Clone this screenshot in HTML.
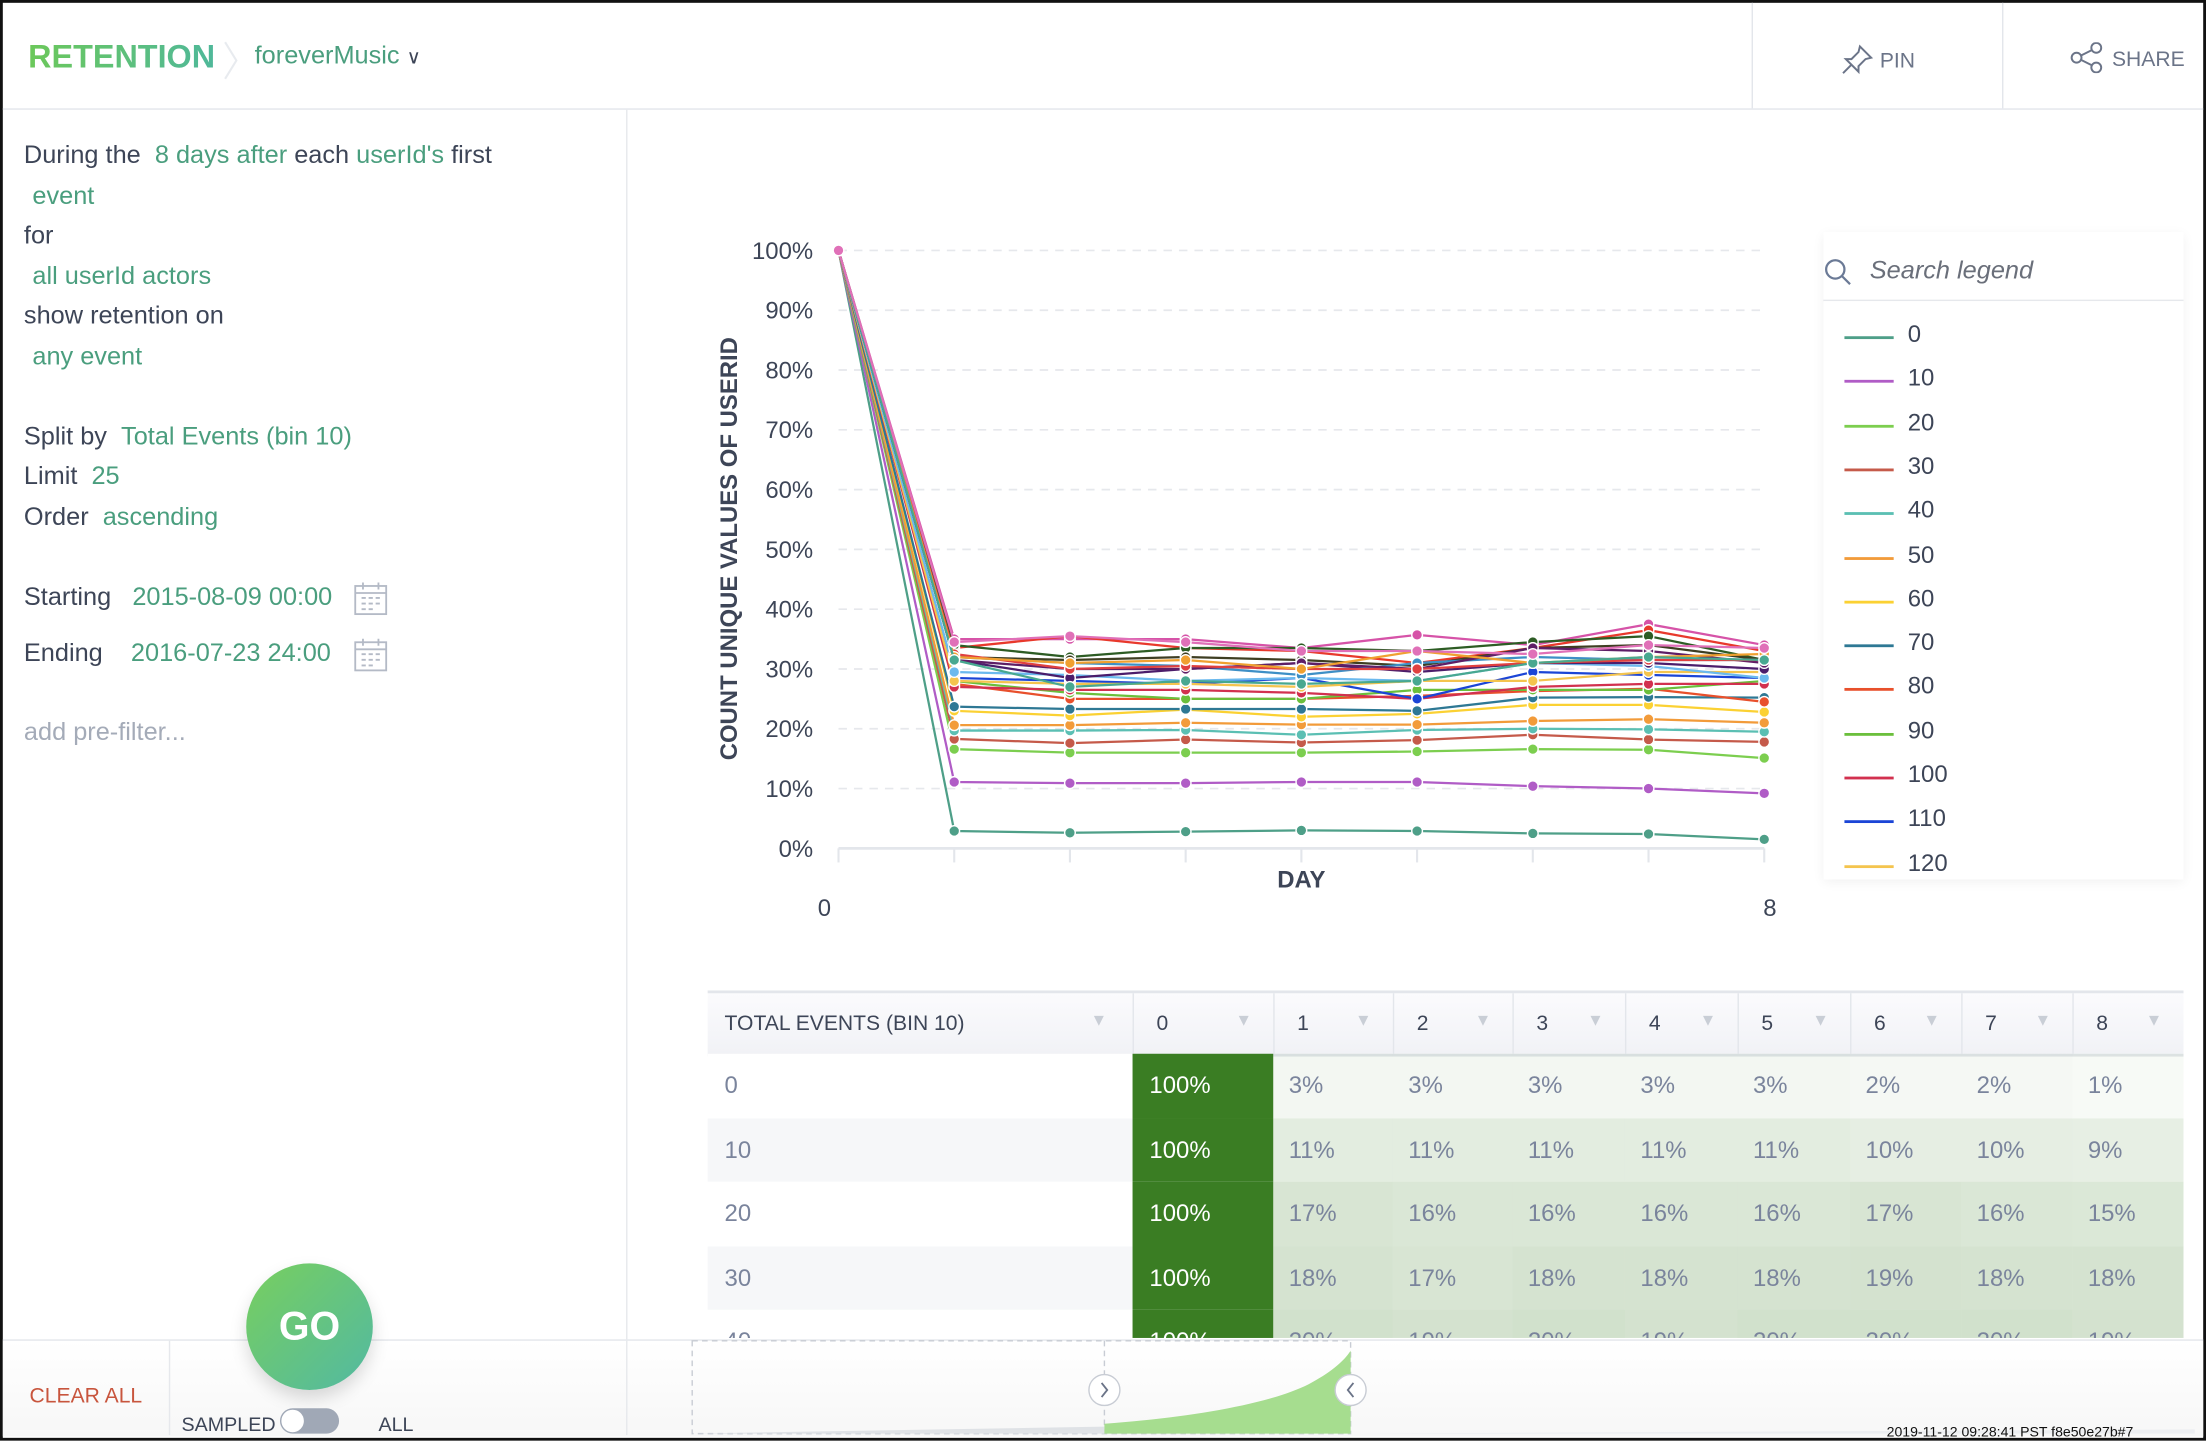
<!DOCTYPE html>
<html><head><meta charset="utf-8">
<style>
html,body{margin:0;padding:0;background:#fff;width:2206px;height:1440px;overflow:hidden}
#root{position:absolute;left:0;top:0;width:1568px;height:1024px;transform:scale(1.40689);transform-origin:0 0;font-family:"Liberation Sans",sans-serif;color:#3d4557;background:#fff}
.abs{position:absolute;white-space:nowrap}
.g{color:#4a9e7e}
.lp{font-size:18px;left:17px}
</style></head>
<body>
<div id="root">
<div class="abs" style="left:0;top:0;width:1564px;height:1020px;border:2px solid #111;"></div>
<!-- header -->
<div class="abs" style="left:2px;top:77px;width:1564px;height:1px;background:#e3e6eb"></div>
<div class="abs" style="left:20px;top:27px;font-size:23px;font-weight:bold;background:linear-gradient(90deg,#6cc85a,#4fb89a);-webkit-background-clip:text;color:transparent">RETENTION</div>
<svg class="abs" style="left:158px;top:28px" width="12" height="30"><path d="M2 2 L10 15 L2 28" fill="none" stroke="#e8ebef" stroke-width="1.5"/></svg>
<div class="abs g" style="left:181px;top:29px;font-size:18px">foreverMusic <span style="color:#3d4557;font-size:14px">&#8744;</span></div>
<div class="abs" style="left:1245px;top:2px;width:1px;height:75px;background:#e3e6eb"></div>
<div class="abs" style="left:1423px;top:2px;width:1px;height:75px;background:#e3e6eb"></div>
<div class="abs" style="left:1308px;top:31px;font-size:15px;color:#6b7488"><svg width="24" height="22" style="vertical-align:-5px"><path d="M14 2 L22 10 L18 11 L13 16 L13 20 L4 11 L8 11 L13 6 Z M8 15 L2 21" fill="none" stroke="#6b7488" stroke-width="1.4"/></svg> PIN</div>
<div class="abs" style="left:1471px;top:30px;font-size:15px;color:#6b7488"><svg width="26" height="22" style="vertical-align:-5px"><circle cx="5" cy="11" r="3.5" fill="none" stroke="#6b7488" stroke-width="1.4"/><circle cx="19" cy="4" r="3.5" fill="none" stroke="#6b7488" stroke-width="1.4"/><circle cx="19" cy="18" r="3.5" fill="none" stroke="#6b7488" stroke-width="1.4"/><path d="M8 9.5 L16 5.5 M8 12.5 L16 16.5" stroke="#6b7488" stroke-width="1.4"/></svg> SHARE</div>
<!-- left panel -->
<div class="abs" style="left:445px;top:78px;width:1px;height:874px;background:#e6e8ec"></div>
<div class="abs lp" style="top:100px">During the &nbsp;<span class="g">8 days after</span> each <span class="g">userId's</span> first</div>
<div class="abs lp g" style="top:129px;left:23px">event</div>
<div class="abs lp" style="top:157px">for</div>
<div class="abs lp g" style="top:186px;left:23px">all userId actors</div>
<div class="abs lp" style="top:214px">show retention on</div>
<div class="abs lp g" style="top:243px;left:23px">any event</div>
<div class="abs lp" style="top:300px">Split by &nbsp;<span class="g">Total Events (bin 10)</span></div>
<div class="abs lp" style="top:328px">Limit &nbsp;<span class="g">25</span></div>
<div class="abs lp" style="top:357px">Order &nbsp;<span class="g">ascending</span></div>
<div class="abs lp" style="top:414px">Starting &nbsp;&nbsp;<span class="g">2015-08-09 00:00</span></div>
<div class="abs lp" style="top:454px">Ending &nbsp;&nbsp;&nbsp;<span class="g">2016-07-23 24:00</span></div>
<svg class="abs" style="left:251px;top:413px" width="25" height="25"><rect x="1.5" y="3.5" width="22" height="20" fill="none" stroke="#b4bac6" stroke-width="1.3"/><path d="M1.5 8.5 H23.5 M7 1 V6 M18 1 V6 M6 12H9M11 12H14M16 12H19M6 16H9M11 16H14M16 16H19M6 20H9M11 20H14" stroke="#b4bac6" stroke-width="1.3"/></svg>
<svg class="abs" style="left:251px;top:453px" width="25" height="25"><rect x="1.5" y="3.5" width="22" height="20" fill="none" stroke="#b4bac6" stroke-width="1.3"/><path d="M1.5 8.5 H23.5 M7 1 V6 M18 1 V6 M6 12H9M11 12H14M16 12H19M6 16H9M11 16H14M16 16H19M6 20H9M11 20H14" stroke="#b4bac6" stroke-width="1.3"/></svg>
<div class="abs lp" style="top:510px;color:#a4abb8">add pre-filter...</div>

<!-- chart -->
<svg id="chart" class="abs" style="left:0;top:0" width="1568" height="700"></svg>

<!-- legend -->
<div class="abs" style="left:1296px;top:165px;width:256px;height:460px;box-shadow:0 2px 8px rgba(0,0,0,0.06)"></div>
<svg class="abs" style="left:1296px;top:183px" width="22" height="22"><circle cx="8.5" cy="8.5" r="6.5" fill="none" stroke="#6b7a96" stroke-width="1.6"/><path d="M13 13 L19 19" stroke="#6b7a96" stroke-width="1.6"/></svg>
<div class="abs" style="left:1329px;top:182px;font-size:18px;font-style:italic;color:#6a6f7a">Search legend</div>
<div class="abs" style="left:1296px;top:213px;width:256px;height:1px;background:#e6e8ec"></div>
<div id="legend" class="abs" style="left:0;top:0"></div>

<!-- table -->
<div id="table" class="abs" style="left:0;top:0"></div>

<!-- bottom bar -->
<div class="abs" style="left:2px;top:952px;width:1564px;height:68px;background:linear-gradient(#fff,#f7f7f7);border-top:1px solid #e3e6eb"></div>
<div class="abs" style="left:120px;top:953px;width:1px;height:67px;background:#e6e8ec"></div>
<div class="abs" style="left:445px;top:953px;width:1px;height:67px;background:#e6e8ec"></div>
<div class="abs" style="left:21px;top:984px;font-size:15px;color:#c8553d">CLEAR ALL</div>
<div class="abs" style="left:175px;top:898px;width:90px;height:90px;border-radius:50%;background:linear-gradient(135deg,#78cf5e,#52b9a2);box-shadow:0 6px 12px rgba(0,0,0,0.15);color:#fff;font-weight:bold;font-size:28px;text-align:center;line-height:90px">GO</div>
<div class="abs" style="left:129px;top:1004px;font-size:14px;color:#3d4557">SAMPLED</div>
<div class="abs" style="left:199px;top:1001px;width:42px;height:18px;border-radius:9px;background:#a0a8b6"><div style="position:absolute;left:1px;top:1px;width:16px;height:16px;border-radius:50%;background:#fff"></div></div>
<div class="abs" style="left:269px;top:1004px;font-size:14px;color:#3d4557">ALL</div>
<svg class="abs" style="left:480px;top:952px" width="1086" height="70">
<rect x="12" y="1" width="468" height="66" fill="none" stroke="#c8ccd4" stroke-dasharray="4 3"/>
<line x1="305" y1="1" x2="305" y2="67" stroke="#c8ccd4" stroke-dasharray="4 3"/>
<path d="M12 67 L305 62 L305 67 Z" fill="#dfe2e6"/>
<path d="M305 67 L305 60 C360 56 420 47 450 32 C465 24 475 16 480 8 L480 67 Z" fill="#a6dd8f"/>
<path d="M480 67 L1080 64 L1080 67 Z" fill="#eceef1"/>
<circle cx="305" cy="36" r="11" fill="#fff" stroke="#c8ccd4"/><path d="M303 31 L307 36 L303 41" fill="none" stroke="#6b7488" stroke-width="1.3"/>
<circle cx="480" cy="36" r="11" fill="#fff" stroke="#c8ccd4"/><path d="M482 31 L478 36 L482 41" fill="none" stroke="#6b7488" stroke-width="1.3"/>
</svg>
<div class="abs" style="left:1341px;top:1013px;font-size:10px;color:#111">2019-11-12 09:28:41 PST f8e50e27b#7</div>
</div>

<script>
const days = [0,1,2,3,4,5,6,7,8];
const seriesNames = ["0","10","20","30","40","50","60","70","80","90","100","110","120","130","140","150","160","170","180","190","200","210","220","230","240"];
const seriesColors = ["#4e9f88","#b05cc6","#7cce4f","#c55a4a","#5bbfb3","#f29b3a","#fbd133","#2e7894","#e8502c","#6bbf3c","#d2314f","#1b45d6","#f4c44e","#6bb9ee","#4b1d6b","#d653a8","#e8392c","#2d5c24","#3e3e22","#3d8fc6","#5e1e66","#e04040","#f0a030","#48a890","#e070b8"];
const s0=[100,2.9,2.6,2.8,3.0,2.9,2.5,2.4,1.5];
const s10=[100,11.1,10.9,10.9,11.1,11.1,10.4,10.0,9.2];
const s20=[100,16.6,16.0,16.0,16.0,16.2,16.6,16.5,15.1];
const s30=[100,18.3,17.6,18.2,17.7,18.1,19.0,18.2,17.8];
const s40=[100,19.7,19.7,19.8,19.0,19.8,20.0,19.9,19.5];
const s50=[100,20.6,20.6,21.0,20.7,20.7,21.3,21.6,21.0];
const s60=[100,23.0,22.2,23.2,22.0,22.5,24.0,24.0,22.8];
const s70=[100,23.7,23.3,23.3,23.3,23.0,25.2,25.3,25.2];
const s80=[100,27.5,25.0,25.0,25.0,25.5,26.3,26.7,24.5];
const s90=[100,28.0,26.0,25.0,25.0,26.5,26.5,26.5,28.0];
const s100=[100,27.0,26.5,26.5,26.0,25.0,27.0,27.5,27.5];
const s110=[100,28.5,28.0,27.5,28.5,25.0,29.5,29.0,28.5];
const s120=[100,28.0,27.5,27.5,27.0,28.0,28.0,29.5,29.5];
const s130=[100,29.5,29.0,28.0,28.5,28.0,31.0,30.5,28.5];
const s140=[100,31.5,28.5,30.0,31.0,29.5,31.0,31.0,30.0];
const s150=[100,35.0,35.0,35.0,33.5,35.7,34.0,37.5,34.0];
const s160=[100,33.5,35.5,33.5,33.0,31.0,33.5,36.5,33.0];
const s170=[100,34.0,32.0,33.5,33.5,33.0,34.5,35.5,31.5];
const s180=[100,32.0,31.5,32.0,31.5,30.5,33.5,34.0,31.5];
const s190=[100,32.0,31.0,30.5,29.0,31.0,32.0,31.5,31.5];
const s200=[100,31.5,30.0,30.0,31.0,30.0,33.5,33.0,31.0];
const s210=[100,32.5,30.0,30.5,30.0,30.0,31.0,31.5,31.5];
const s220=[100,32.0,31.0,31.5,30.0,33.0,31.0,32.0,32.5];
const s230=[100,31.5,27.0,28.0,27.5,28.0,31.0,32.0,31.5];
const s240=[100,34.5,35.5,34.5,33.0,33.0,32.5,34.0,33.5];
const series=[s0,s10,s20,s30,s40,s50,s60,s70,s80,s90,s100,s110,s120,s130,s140,s150,s160,s170,s180,s190,s200,s210,s220,s230,s240];
const yTicks=[0,10,20,30,40,50,60,70,80,90,100];
const xTickLabels=["0","8"];
const legendShown=13;
const tableRows=["0","10","20","30","40"];
const tableCols=["0","1","2","3","4","5","6","7","8"];
const r0=[100,3,3,3,3,3,2,2,1];
const r10=[100,11,11,11,11,11,10,10,9];
const r20=[100,17,16,16,16,16,17,16,15];
const r30=[100,18,17,18,18,18,19,18,18];
const r40=[100,20,19,20,19,20,20,20,19];
const tableVals=[r0,r10,r20,r30,r40];

const NS="http://www.w3.org/2000/svg";
const X0=596,X1=1254,Y0=603,Y1=178;
function xs(d){return X0+(d-days[0])/(days[days.length-1]-days[0])*(X1-X0);}
function ys(v){return Y0-v/100*(Y0-Y1);}
const svg=document.getElementById('chart');
function mk(tag,attrs,parent){const e=document.createElementNS(NS,tag);for(const k in attrs)e.setAttribute(k,attrs[k]);(parent||svg).appendChild(e);return e;}
yTicks.forEach(t=>{
  const y=ys(t);
  const gl=mk('line',{x1:X0,x2:X1,y1:y,y2:y,stroke:t===0?'#e3e6eb':'#e6e8ec','stroke-width':t===0?2:1.2,'stroke-dasharray':t===0?'':'6 5'});
  
  
  const tx=mk('text',{x:578,y:y+6,'text-anchor':'end','font-size':17,fill:'#3d4557','font-family':'Liberation Sans, sans-serif'});
  tx.textContent=t+'%';
  
  
});
days.forEach(d=>{
  const tk=mk('line',{x1:xs(d),x2:xs(d),y1:Y0,y2:Y0+10,stroke:'#e3e6eb','stroke-width':1.5});
  
  
});
[days[0],days[days.length-1]].forEach((d,i)=>{
  const tx=mk('text',{x:xs(d)+(i===0?-10:4),y:651,'text-anchor':'middle','font-size':17,fill:'#3d4557','font-family':'Liberation Sans, sans-serif'});
  tx.textContent=xTickLabels[i];
  
  
});
const xt=mk('text',{x:925,y:631,'text-anchor':'middle','font-size':17,'font-weight':'bold',fill:'#3d4557','font-family':'Liberation Sans, sans-serif'});
xt.textContent='DAY';


const yt=mk('text',{x:0,y:0,transform:'translate(524,390) rotate(-90)','text-anchor':'middle','font-size':17,'font-weight':'bold',fill:'#3d4557','font-family':'Liberation Sans, sans-serif'});
yt.textContent='COUNT UNIQUE VALUES OF USERID';


series.forEach((s,i)=>{
  const g=mk('g',{});
  
  
  const pts=s.map((v,j)=>xs(days[j])+','+ys(v)).join(' ');
  const pl=mk('polyline',{points:pts,fill:'none',stroke:seriesColors[i],'stroke-width':1.6},g);
  
  
  s.forEach((v,j)=>{
    const c=mk('circle',{cx:xs(days[j]),cy:ys(v),r:3.8,fill:seriesColors[i],stroke:'#fff','stroke-width':1},g);
    
    
  });
});
// legend
const lg=document.getElementById('legend');
for(let i=0;i<legendShown;i++){
  const y=239+i*31.3;
  const e=document.createElement('div');
  e.className='abs';
  e.style.cssText='left:1311px;top:'+(y-12)+'px;height:24px;font-size:17px;color:#3d4557';
  
  
  e.innerHTML='<span style="position:absolute;left:0;top:12px;width:35px;height:2px;background:'+seriesColors[i]+'"></span><span style="position:absolute;left:45px;top:1px">'+seriesNames[i]+'</span>';
  lg.appendChild(e);
}
// table
const tb=document.getElementById('table');
const colX=[503,805,905,990,1075,1155,1235,1315,1394,1473,1552];
const hdr=document.createElement('div');
hdr.className='abs';
hdr.style.cssText='left:503px;top:704px;width:1049px;height:43px;background:linear-gradient(#fbfbfd,#f1f2f6);border-top:2px solid #e3e6eb;border-bottom:2px solid #e3e6eb';


tb.appendChild(hdr);
const hlabels=['TOTAL EVENTS (BIN 10)'].concat(tableCols);
hlabels.forEach((h,i)=>{
  const c=document.createElement('div');
  c.className='abs';
  c.style.cssText='left:'+colX[i]+'px;top:706px;width:'+(colX[i+1]-colX[i])+'px;height:43px;'+(i>0?'border-left:1px solid #e3e6eb;':'')+'font-size:15px;color:#3d4557';
  
  
  c.innerHTML='<span style="position:absolute;left:'+(i===0?12:16)+'px;top:13px">'+h+'</span><span style="position:absolute;right:'+(i===0?18:16)+'px;top:12px;color:#c9ced6;font-size:12px">&#9660;</span>';
  tb.appendChild(c);
});
tableRows.forEach((r,ri)=>{
  const top=749+ri*45.5;
  const h=Math.min(45.5,951-top);
  const row=document.createElement('div');
  row.className='abs';
  row.style.cssText='left:503px;top:'+top+'px;width:302px;height:'+h+'px;background:'+(ri%2?'#f6f7f9':'#fff')+';overflow:hidden';
  
  
  row.innerHTML='<span style="position:absolute;left:12px;top:13px;font-size:17px;color:#7a849c">'+r+'</span>';
  tb.appendChild(row);
  tableVals[ri].forEach((v,ci)=>{
    const c=document.createElement('div');
    c.className='abs';
    const x=colX[ci+1],w=colX[ci+2]-x;
    let bg,col;
    if(v>=100){bg='#3a7d23';col='#fff';}else{const a=Math.min(1,v/100*1.0+0.03);bg='rgba(58,125,35,'+a.toFixed(3)+')';col='#7a849c';}
    c.style.cssText='left:'+x+'px;top:'+top+'px;width:'+w+'px;height:'+h+'px;background:'+bg+';overflow:hidden';
    
    
    c.innerHTML='<span style="position:absolute;left:'+(ci===0?12:11)+'px;top:13px;font-size:17px;color:'+col+'">'+v+'%</span>';
    tb.appendChild(c);
  });
});
</script>
</body></html>
